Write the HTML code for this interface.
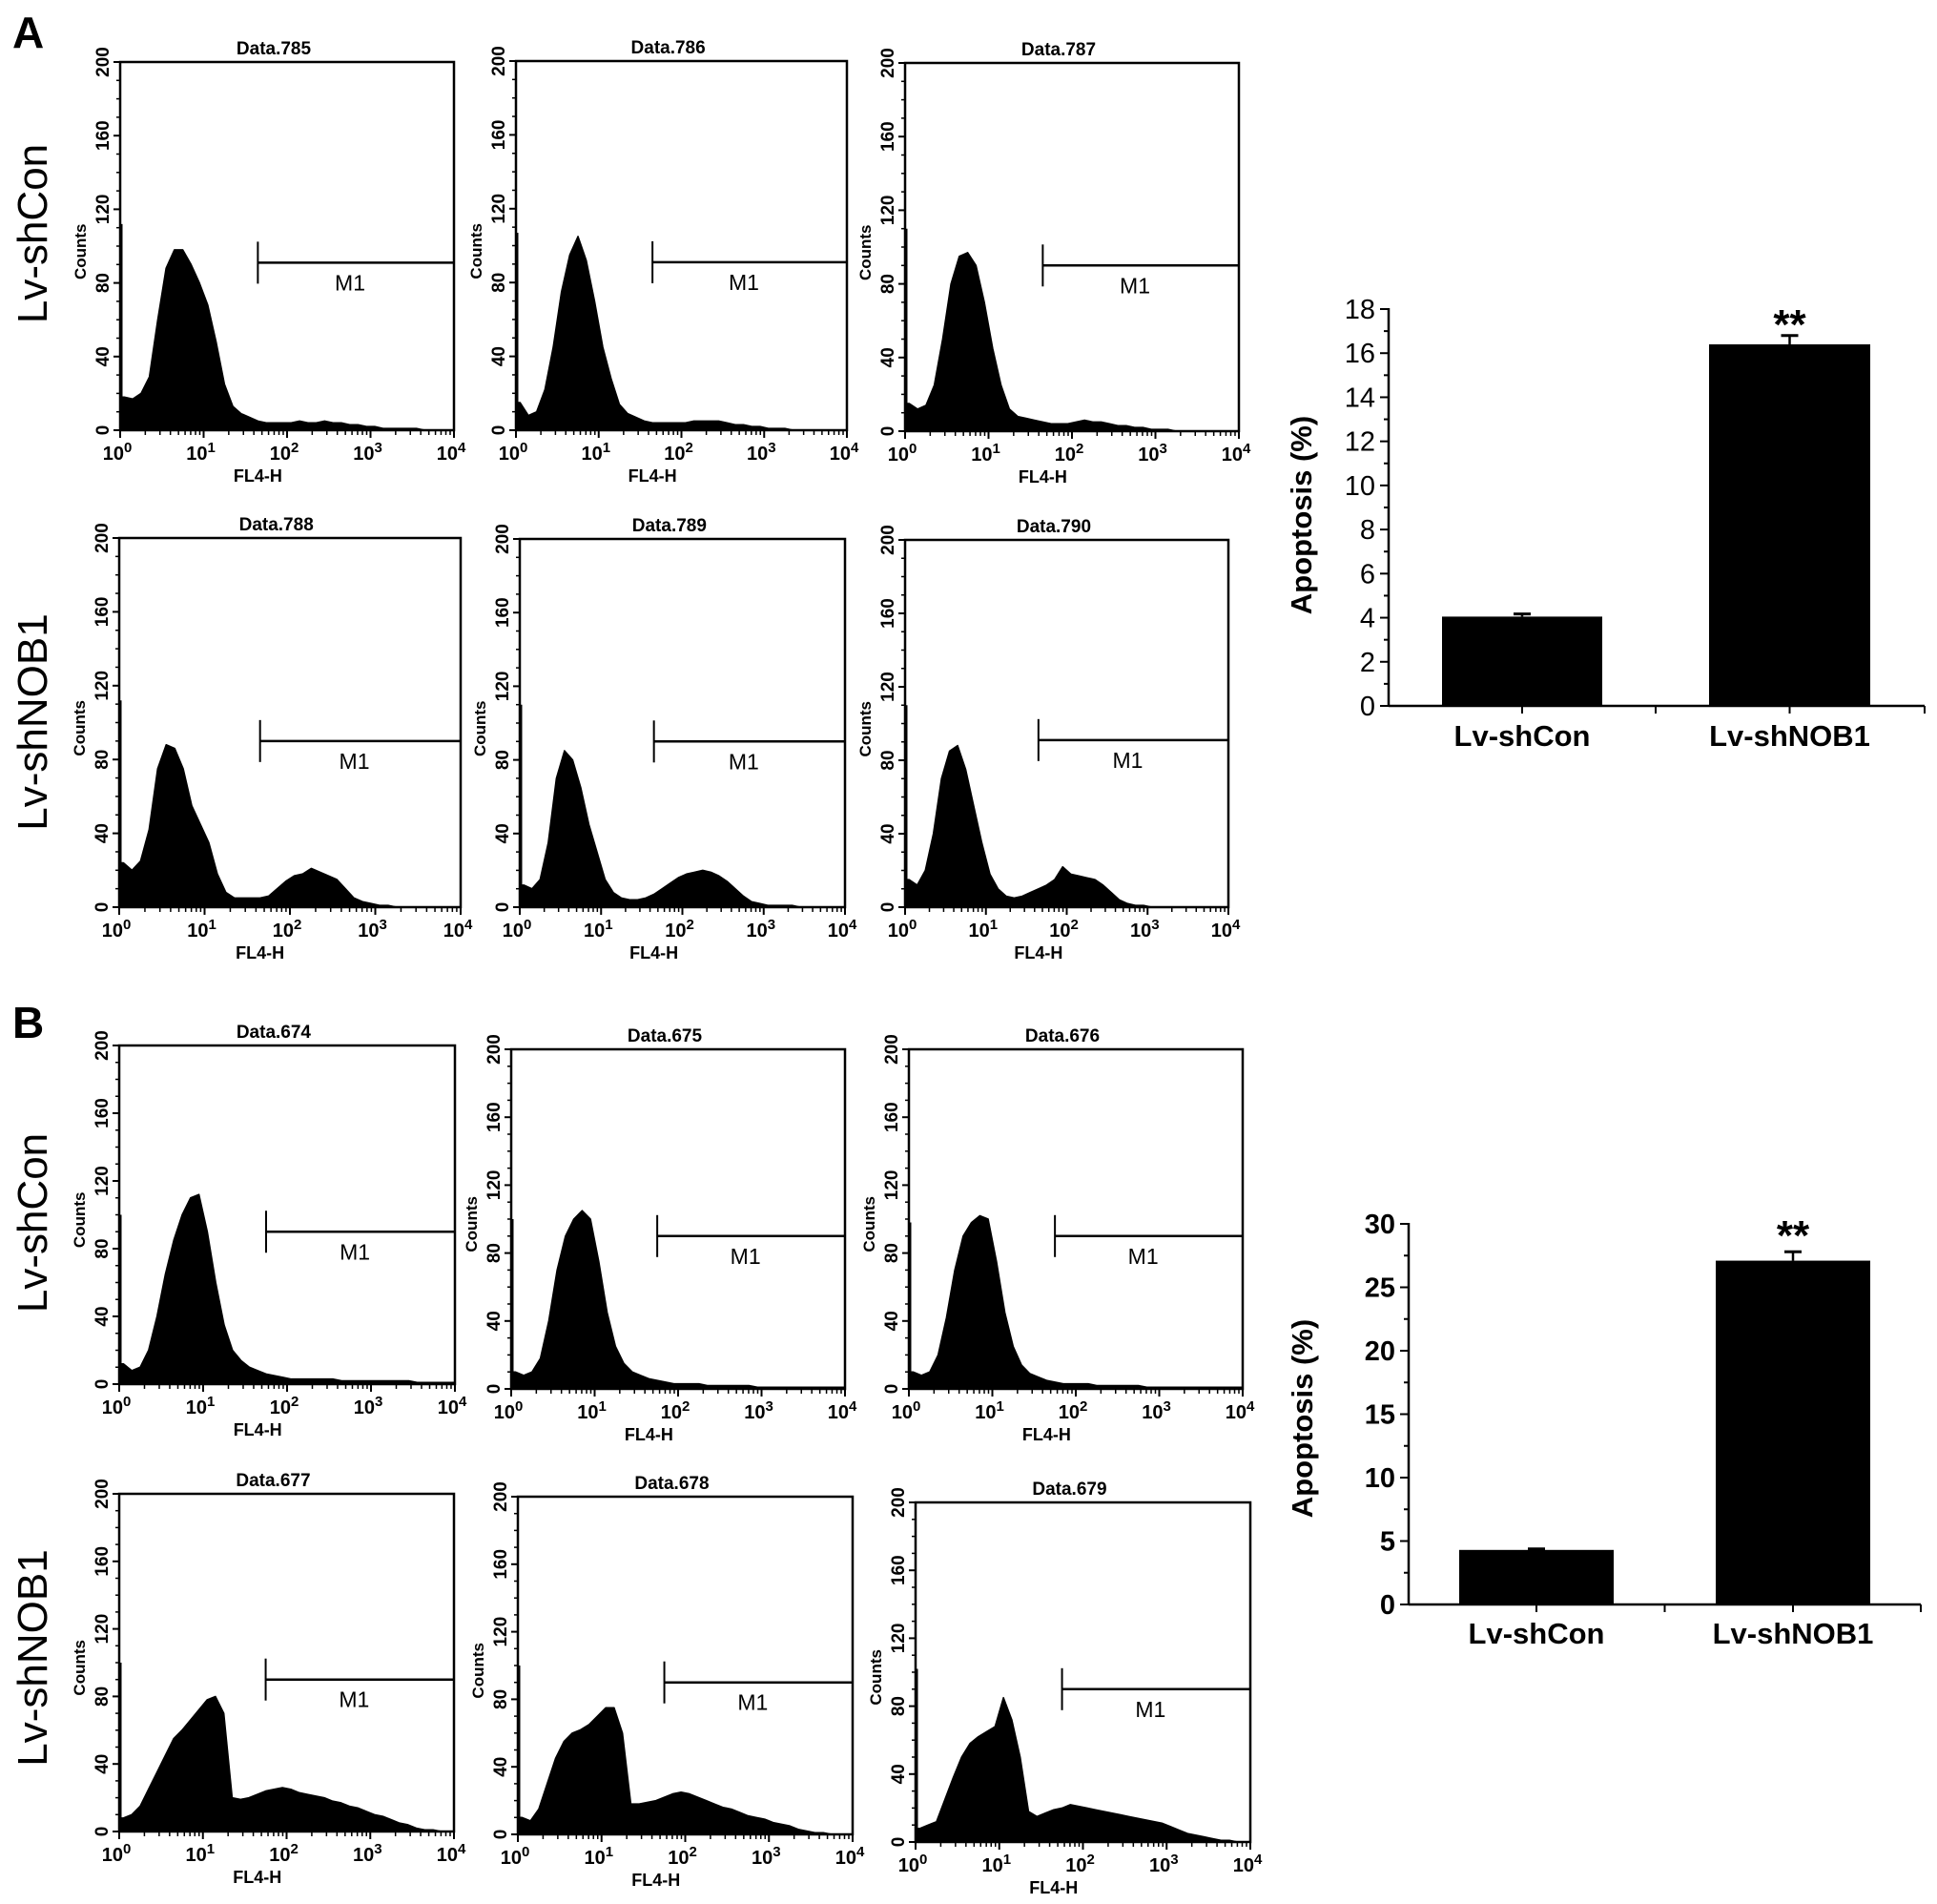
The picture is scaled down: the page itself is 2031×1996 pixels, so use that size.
<!DOCTYPE html>
<html><head><meta charset="utf-8"><style>
html,body{margin:0;padding:0;background:#fff;}
svg{display:block;}
</style></head><body>
<svg id="fig" width="2031" height="1996" viewBox="0 0 2031 1996" xmlns="http://www.w3.org/2000/svg"></svg>
<script>
// ---------- histogram data (counts per 0.1-decade bin, log10 0..4) ----------
const histNames = ["Data.785","Data.786","Data.787","Data.788","Data.789","Data.790",
                   "Data.674","Data.675","Data.676","Data.677","Data.678","Data.679"];
const h785 = [18,17,20,29,60,88,98,98,90,80,68,48,25,13,9,7,5,4,4,4,4,5,4,4,5,4,4,3,3,2,2,1,1,1,1,1,0,0,0,0];
const h786 = [15,8,10,22,45,75,95,105,92,70,45,28,14,9,7,5,4,4,4,4,4,5,5,5,5,4,3,3,2,2,1,1,1,0,0,0,0,0,0,0];
const h787 = [15,12,14,25,50,80,95,97,90,70,45,25,12,8,7,6,5,4,4,4,5,6,5,5,4,3,3,2,2,1,1,1,0,0,0,0,0,0,0,0];
const h788 = [24,20,25,42,75,88,86,75,55,45,35,18,8,5,5,5,5,6,10,14,17,18,21,19,17,15,10,5,3,2,1,1,0,0,0,0,0,0,0,0];
const h789 = [12,10,15,35,70,85,80,65,45,30,15,8,5,4,4,5,7,10,13,16,18,19,20,19,17,14,10,6,3,2,1,1,1,1,0,0,0,0,0,0];
const h790 = [15,12,20,40,70,85,88,75,55,35,18,10,6,5,6,8,10,12,15,22,18,17,16,15,12,8,4,2,1,1,0,0,0,0,0,0,0,0,0,0];
const h674 = [12,8,10,20,40,65,85,100,110,112,90,60,35,20,14,10,8,6,5,4,3,3,3,3,3,3,2,2,2,2,2,2,2,2,2,1,1,1,1,1];
const h675 = [10,8,10,18,40,70,90,100,105,100,75,45,25,15,10,8,6,5,4,3,3,3,3,2,2,2,2,2,2,1,1,1,1,1,1,1,1,1,1,1];
const h676 = [10,8,10,20,42,70,90,98,102,100,75,45,25,14,9,7,5,4,3,3,3,3,2,2,2,2,2,2,1,1,1,1,1,1,1,1,1,1,1,1];
const h677 = [8,10,15,25,35,45,55,60,66,72,78,80,70,20,19,20,22,24,25,26,25,23,22,21,20,18,17,15,14,12,10,9,7,5,4,2,1,1,0,0];
const h678 = [10,8,15,30,45,55,60,62,65,70,75,75,60,18,18,19,20,22,24,25,24,22,20,18,16,15,13,11,10,9,7,6,5,3,2,1,1,0,0,0];
const h679 = [8,10,12,25,38,50,58,62,65,68,85,72,50,18,15,17,19,20,22,21,20,19,18,17,16,15,14,13,12,11,9,7,5,4,3,2,1,1,0,0];
const histSeries = [h785,h786,h787,h788,h789,h790,h674,h675,h676,h677,h678,h679];
const firstBinSpike = [112,107,110,112,110,110,100,100,98,100,100,102];
const markerStart = [1.65,1.65,1.65,1.65,1.65,1.65,1.75,1.75,1.75,1.75,1.75,1.75];
const markerLevel = [91,91,90,90,90,91,90,90,90,90,90,90];
const yTickVals = [0,40,80,120,160,200];
const xDecades = [0,1,2,3,4];

// ---------- bar chart data ----------
const barCats = ["Lv-shCon","Lv-shNOB1"];
const barA = [4.05,16.4];
const errA = [0.12,0.4];
const barB = [4.3,27.1];
const errB = [0.08,0.7];
const ticksA = [0,2,4,6,8,10,12,14,16,18];
const ticksB = [0,5,10,15,20,25,30];

const NS="http://www.w3.org/2000/svg";
const svg=document.getElementById('fig');
function mk(tag,attrs,parent){const e=document.createElementNS(NS,tag);for(const k in attrs)e.setAttribute(k,attrs[k]);(parent||svg).appendChild(e);return e;}

const boxes=[
 [126,65,476,451],[541,64,888,451],[949,66,1299,452],
 [125,564,483,951],[545,565,886,951],[949,566,1288,951],
 [125,1096,477,1451],[536,1100,886,1456],[953,1100,1303,1456],
 [125,1566,476,1920],[543,1569,894,1923],[960,1575,1311,1931]];
const PF='"Liberation Sans Narrow","Liberation Sans",sans-serif';

boxes.forEach((b,pi)=>{
  const [L,T,R,B]=b;
  const g=mk('g',{});
  
  
  const xs=v=>L+(R-L)*v/4;
  const ys=c=>B-(B-T)*Math.min(c,200)/200;
  const data=histSeries[pi];
  let d='M'+xs(0)+','+B+' L'+xs(0)+','+ys(data[0]);
  data.forEach((v,i)=>{d+=' L'+xs(i*0.1+0.05)+','+ys(v);});
  d+=' L'+xs(4)+','+ys(data[data.length-1])+' L'+xs(4)+','+B+' Z';
  const hp=mk('path',{d:d,fill:'#000',stroke:'#000','stroke-width':1.5,'stroke-linejoin':'round'},g);
  
  
  const sp=mk('line',{x1:L+1,x2:L+1,y1:ys(firstBinSpike[pi]),y2:B,stroke:'#000','stroke-width':3},g);
  
  
  const bx=mk('rect',{x:L,y:T,width:R-L,height:B-T,fill:'none',stroke:'#000','stroke-width':2.5},g);
  
  
  const tt=mk('text',{x:L+(R-L)*0.46,y:T-8,'font-family':PF,'font-weight':'bold','font-size':19,'text-anchor':'middle'},g);
  tt.textContent=histNames[pi];
  
  
  for(let c=0;c<=200;c+=10){
    const major=c%40===0;
    mk('line',{x1:L-(major?7:4),x2:L,y1:ys(c),y2:ys(c),stroke:'#000','stroke-width':major?2:1.5},g);
  }
  yTickVals.forEach(v=>{
    const t=mk('text',{transform:`translate(${L-12},${ys(v)}) rotate(-90)`,'font-family':PF,'font-weight':'bold','font-size':19,'text-anchor':'middle'},g);
    t.textContent=v;
    
    
  });
  const yl=mk('text',{transform:`translate(${L-36},${ys(97)}) rotate(-90)`,'font-family':PF,'font-weight':'bold','font-size':17,'text-anchor':'middle'},g);
  yl.textContent='Counts';
  
  
  for(let dcd=0;dcd<4;dcd++){
    for(let m=1;m<10;m++){
      const lv=dcd+Math.log10(m);
      mk('line',{x1:xs(lv),x2:xs(lv),y1:B,y2:B+(m===1?8:5),stroke:'#000','stroke-width':m===1?2:1.5},g);
    }
  }
  mk('line',{x1:xs(4),x2:xs(4),y1:B,y2:B+8,stroke:'#000','stroke-width':2},g);
  xDecades.forEach(v=>{
    const t=mk('text',{x:xs(v)-3,y:B+31,'font-family':PF,'font-weight':'bold','font-size':20,'text-anchor':'middle'},g);
    t.textContent='10';
    const s=mk('tspan',{dy:-8,'font-size':15},t);
    s.textContent=String(v);
    
    
  });
  const xl=mk('text',{x:xs(1.65),y:B+54,'font-family':PF,'font-weight':'bold','font-size':18,'text-anchor':'middle'},g);
  xl.textContent='FL4-H';
  
  
  const mx=xs(markerStart[pi]), my=ys(markerLevel[pi]);
  const mg=mk('g',{},g);
  
  
  mk('line',{x1:mx,x2:mx,y1:my-22,y2:my+22,stroke:'#000','stroke-width':2},mg);
  mk('line',{x1:mx,x2:R,y1:my,y2:my,stroke:'#000','stroke-width':2.5},mg);
  const ml=mk('text',{x:mx+(R-mx)*0.47,y:my+29,'font-family':PF,'font-size':23,'text-anchor':'middle'},mg);
  ml.textContent='M1';
});

const rowLabels=[["Lv-shCon",34,245],["Lv-shNOB1",34,757],["Lv-shCon",34,1282],["Lv-shNOB1",34,1738]];
rowLabels.forEach(r=>{
  const t=mk('text',{transform:`translate(${r[1]+15},${r[2]}) rotate(-90)`,'font-family':'"Liberation Sans",sans-serif','font-size':44,'text-anchor':'middle'});
  t.textContent=r[0];
  
  
});
[["A",13,50],["B",13,1088]].forEach(p=>{
  const t=mk('text',{x:p[1],y:p[2],'font-family':'"Liberation Sans",sans-serif','font-weight':'bold','font-size':46});
  t.textContent=p[0];
  
  
});

function barChart(cfg){
  const g=mk('g',{});
  
  
  const {ax,y0,yTop,xR,max,ticks,vals,errs,bars}=cfg;
  const ys=v=>y0-(y0-yTop)*v/max;
  mk('line',{x1:ax,x2:ax,y1:yTop-1,y2:y0,stroke:'#000','stroke-width':2.5},g);
  mk('line',{x1:ax,x2:xR,y1:y0,y2:y0,stroke:'#000','stroke-width':2.5},g);
  const step=ticks[1]-ticks[0];
  for(let v=0;v<=max+1e-9;v+=step/2){
    const major=Math.abs(v/step-Math.round(v/step))<1e-6;
    mk('line',{x1:ax-(major?9:5),x2:ax,y1:ys(v),y2:ys(v),stroke:'#000','stroke-width':2},g);
  }
  ticks.forEach(v=>{
    const t=mk('text',{x:ax-14,y:ys(v)+10,'font-family':'"Liberation Sans",sans-serif','font-size':29,'font-weight':cfg.tickBold?'bold':'normal','text-anchor':'end'},g);
    t.textContent=v;
    
    
  });
  const mid=(bars[0][1]+bars[1][0])/2;
  [ (bars[0][0]+bars[0][1])/2, mid, (bars[1][0]+bars[1][1])/2, xR ].forEach(x=>mk('line',{x1:x,x2:x,y1:y0,y2:y0+8,stroke:'#000','stroke-width':2},g));
  vals.forEach((v,i)=>{
    const [bl,br]=bars[i];
    const r=mk('rect',{x:bl,y:ys(v),width:br-bl,height:y0-ys(v),fill:'#000'},g);
    
    
    const cx=(bl+br)/2;
    const e=mk('g',{},g);
    
    
    mk('line',{x1:cx,x2:cx,y1:ys(v),y2:ys(v+errs[i]),stroke:'#000','stroke-width':2.5},e);
    mk('line',{x1:cx-9,x2:cx+9,y1:ys(v+errs[i]),y2:ys(v+errs[i]),stroke:'#000','stroke-width':3},e);
    const c=mk('text',{x:cx,y:cfg.labY,'font-family':'"Liberation Sans",sans-serif','font-weight':'bold','font-size':31,'text-anchor':'middle'},g);
    c.textContent=barCats[i];
    
    
  });
  const cx2=(bars[1][0]+bars[1][1])/2;
  const st=mk('text',{x:cx2,y:cfg.starY,'font-family':'"Liberation Sans",sans-serif','font-weight':'bold','font-size':44,'text-anchor':'middle'},g);
  st.textContent='**';
  
  
  const yl=mk('text',{transform:`translate(${cfg.titleX},${cfg.titleY}) rotate(-90)`,'font-family':'"Liberation Sans",sans-serif','font-weight':'bold','font-size':31,'text-anchor':'middle'},g);
  yl.textContent='Apoptosis (%)';
  
  
}
barChart({name:'bar-chart-a',ax:1456,y0:740,yTop:324,xR:2018,max:18,ticks:ticksA,vals:barA,errs:errA,
  bars:[[1512,1680],[1792,1961]],labY:782,starY:355,titleX:1375,titleY:540,tickBold:false});
barChart({name:'bar-chart-b',ax:1477,y0:1682,yTop:1283,xR:2014,max:30,ticks:ticksB,vals:barB,errs:errB,
  bars:[[1530,1692],[1799,1961]],labY:1723,starY:1310,titleX:1376,titleY:1487,tickBold:true});
</script>
</body></html>
